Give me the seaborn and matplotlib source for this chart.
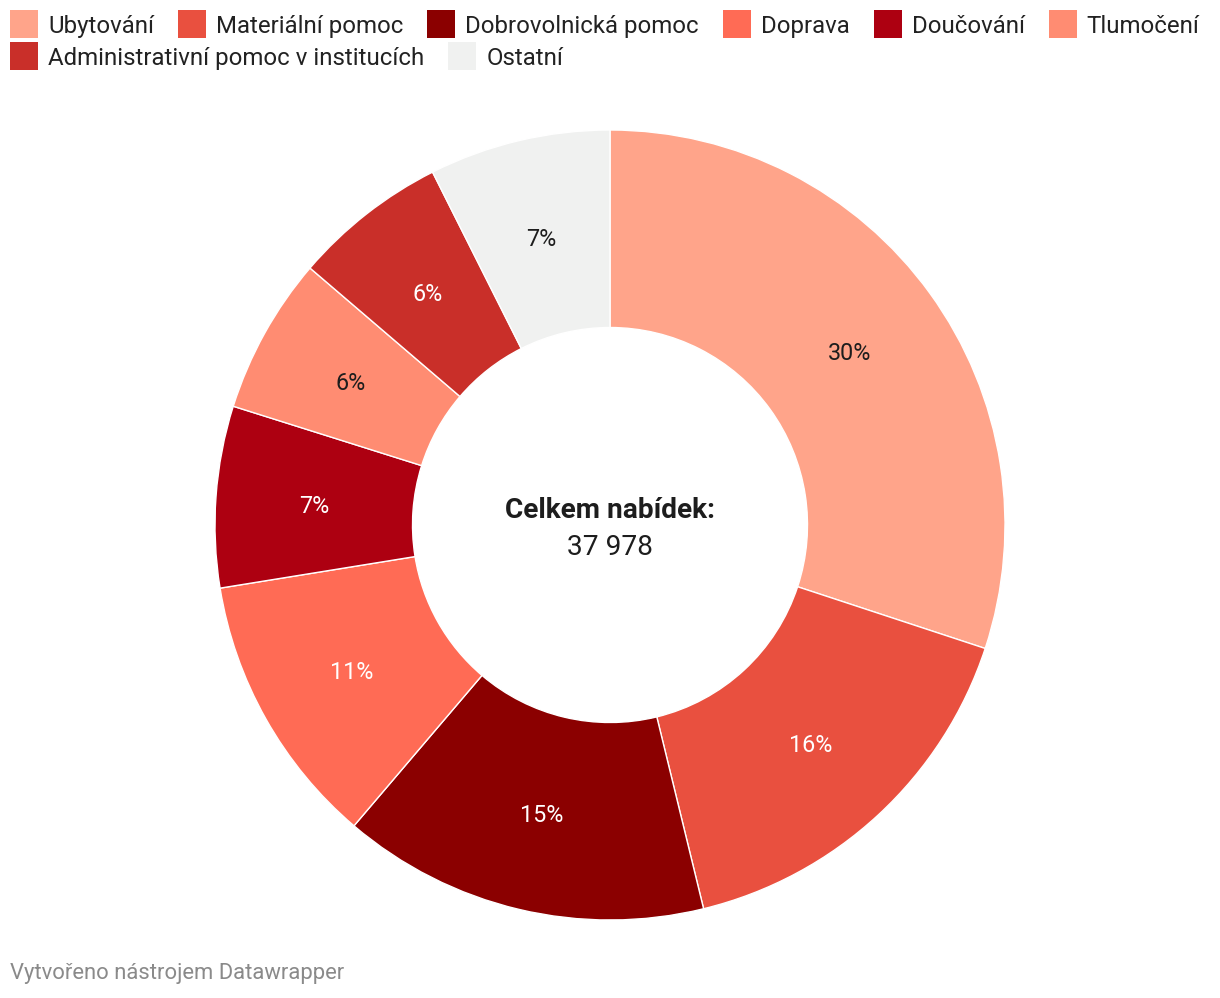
import matplotlib
matplotlib.use("Agg")
import matplotlib.pyplot as plt
from matplotlib.patches import Rectangle
import seaborn as sns
import numpy as np

categories = ["Ubytování", "Materiální pomoc", "Dobrovolnická pomoc", "Doprava",
              "Doučování", "Tlumočení", "Administrativní pomoc v institucích", "Ostatní"]
shares = [30.0, 16.1, 15.0, 11.2, 7.4, 6.4, 6.3, 7.4]
colors = ["#ffa48a", "#e9503f", "#8b0000", "#ff6b55", "#ad0011", "#ff8c72", "#c92f29", "#f0f1f0"]
label_dark = [True, False, False, False, False, True, False, True]
total_label = "Celkem nabídek:"
total_value = "37 978"
footer = "Vytvořeno nástrojem Datawrapper"

sns.set_theme(style="white")
plt.rcParams["font.family"] = ["Roboto", "DejaVu Sans"]

W, H = 1220, 998
fig = plt.figure(figsize=(W / 100, H / 100), dpi=100)
fig.patch.set_facecolor("white")

cx, cy, R = 610, 525, 395
ax = fig.add_axes([(cx - R) / W, (H - cy - R) / H, 2 * R / W, 2 * R / H])
palette = sns.color_palette(colors)
wedges, _ = ax.pie(shares, colors=palette, startangle=90, counterclock=False,
                   radius=1.0, wedgeprops=dict(width=0.5, edgecolor="white", linewidth=1.0))
ax.set_xlim(-1, 1)
ax.set_ylim(-1, 1)
ax.set_aspect("equal")
ax.axis("off")

tot = sum(shares)
angle = 90.0
for v, w, dark in zip(shares, wedges, label_dark):
    sweep = v / tot * 360
    mid = np.deg2rad(angle - sweep / 2)
    angle -= sweep
    r = 0.75
    ax.text(r * np.cos(mid), r * np.sin(mid), f"{round(v / tot * 100)}%",
            ha="center", va="center_baseline", fontsize=16.8,
            color="#1d1d1d" if dark else "white")

ax.text(0, 0.037, total_label, ha="center", va="center", fontsize=20.2,
        fontweight="bold", color="#1d1d1d")
ax.text(0, -0.058, total_value, ha="center", va="center", fontsize=20.2, color="#1d1d1d")

# legend (flow layout in pixel coords)
renderer = fig.canvas.get_renderer()
rows = [list(range(0, 6)), [6, 7]]
row_y = [24, 56]
sq = 28
for ri, idxs in enumerate(rows):
    x = 10
    yc = row_y[ri]
    for i in idxs:
        fig.patches.append(Rectangle((x / W, 1 - (yc + sq / 2) / H), sq / W, sq / H,
                                     transform=fig.transFigure, facecolor=colors[i],
                                     edgecolor="none"))
        t = fig.text((x + sq + 10) / W, 1 - yc / H, categories[i], ha="left",
                     va="center_baseline", fontsize=17.3, color="#222222")
        bb = t.get_window_extent(renderer)
        x = x + sq + 10 + bb.width + 24

fig.text(10 / W, 1 - 973 / H, footer, ha="left", va="center", fontsize=15.8,
         color="#8a8a8a")

fig.savefig("out.png", dpi=100, facecolor="white")
